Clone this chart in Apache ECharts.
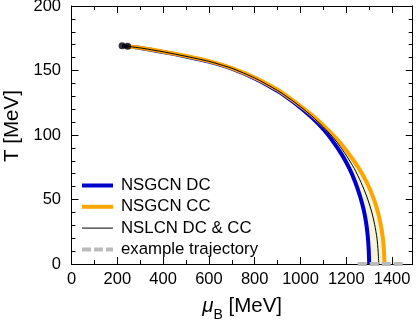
<!DOCTYPE html>
<html><head><meta charset="utf-8">
<script src="https://cdn.jsdelivr.net/npm/echarts@6/dist/echarts.min.js"></script>
<style>html,body{margin:0;padding:0;background:#fff}#c{width:416px;height:320px}</style>
</head><body><div id="c"></div>
<script>
// ---- data ----
const muBlue = [221,300,400,500,600,700,800,900,950,1000,1050,1100,1140,1180,1215,1240,1260,1276,1287,1294,1298,1300];
const tBlue  = [169.2,167.5,164.4,160.9,156.9,151.4,143.8,134,128,121.2,113.5,104.5,95.5,85,73.5,63,52.5,42,31.5,21,10.5,0];
const muOrange = [245,300,400,500,600,700,800,900,950,1000,1050,1100,1150,1200,1250,1290,1320,1340,1353,1361,1365,1367];
const tOrange  = [168.6,167.6,164.6,161.2,157.3,151.9,144.5,135,129,122.5,115.5,107.5,98.5,88,75.5,63,50.5,39,28,18,9,0];
const muBlack = [221,300,400,500,600,700,800,900,950,1000,1050,1100,1150,1195,1235,1265,1290,1310,1324,1334,1339,1342];
const tBlack  = [169.2,167.5,164.5,161,157.1,151.7,144.2,134.5,128.5,121.9,114.6,106.2,96.5,85.5,74,63,52,41,30.5,20,10,0];
const muTraj = [1250,1450];
const tTraj  = [0,0];
const muDots = [221,245];
const tDots  = [169.2,168.8];
const seriesNames = ['NSGCN DC','NSGCN CC','NSLCN DC & CC','example trajectory'];
const xMin = 0, xMax = 1490, xMajor = 200, xMinor = 100;
const yMin = 0, yMax = 200, yMajor = 50;

const FONT = '"Liberation Sans", Arial, Helvetica, sans-serif';
const zip = (a,b) => a.map((v,i) => [v, b[i]]);
const blue = zip(muBlue,tBlue), orange = zip(muOrange,tOrange), black = zip(muBlack,tBlack);
const traj = zip(muTraj,tTraj), dots = zip(muDots,tDots);
const band = blue.concat(orange.slice().reverse());

const chart = echarts.init(document.getElementById('c'), null, {renderer:'canvas'});
const lineAx = {show:true, onZero:false, lineStyle:{color:'#000', width:1}};
function xAx(pos, interval, len, labels, extra) {
  return Object.assign({
    type:'value', position:pos, min:xMin, max:xMax, interval:interval,
    axisLine: len === 7 ? lineAx : {show:false, onZero:false},
    axisTick:{show:true, inside:true, length:len, lineStyle:{color:'#000', width:1}},
    axisLabel: labels ? {show:true, color:'#000', fontSize:16.5, fontFamily:FONT, margin:7, showMaxLabel:false, formatter: v => String(v)} : {show:false},
    splitLine:{show:false}
  }, extra || {});
}
function yAx(pos, labels, extra) {
  return Object.assign({
    type:'value', position:pos, min:yMin, max:yMax, interval:yMajor,
    axisLine: lineAx,
    axisTick:{show:true, inside:true, length:7, lineStyle:{color:'#000', width:1}},
    minorTick:{show:true, splitNumber:5, length:4, lineStyle:{color:'#000', width:1}},
    axisLabel: labels ? {show:true, color:'#000', fontSize:16.5, fontFamily:FONT, margin:10.5, formatter: v => String(v)} : {show:false},
    splitLine:{show:false}, minorSplitLine:{show:false}
  }, extra || {});
}

const option = {
  animation:false,
  backgroundColor:'#fff',
  textStyle:{fontFamily:FONT},
  grid:{left:71.5, right:3.3, top:6, bottom:56, outerBoundsMode:'none', containLabel:false},
  xAxis:[
    xAx('bottom', xMajor, 7, true, {
      name:'{m|μ}{s|B}{n| [MeV]}', nameLocation:'middle', nameGap:27, nameMoveOverlap:false,
      nameTextStyle:{color:'#000', rich:{
        m:{fontSize:20.5, fontStyle:'italic', fontFamily:FONT, color:'#000'},
        s:{fontSize:14, fontFamily:FONT, color:'#000', padding:[17,0,0,0]},
        n:{fontSize:20.5, fontFamily:FONT, color:'#000'}
      }}
    }),
    xAx('bottom', xMinor, 4, false),
    xAx('top', xMajor, 7, false),
    xAx('top', xMinor, 4, false)
  ],
  yAxis:[
    yAx('left', true, {name:'T [MeV]', nameLocation:'middle', nameGap:49, nameMoveOverlap:false,
      nameTextStyle:{color:'#000', fontSize:20.5, fontFamily:FONT, padding:[0,0,0,18]}}),
    yAx('right', false)
  ],
  legend:{
    orient:'vertical', left:80, top:177, padding:0, itemWidth:31, itemHeight:14, itemGap:4.3,
    selectedMode:false,
    itemStyle:{color:'rgba(0,0,0,0)', borderColor:'rgba(0,0,0,0)', borderWidth:0, opacity:0},
    textStyle:{fontSize:16.8, color:'#000', fontFamily:FONT, padding:[0,0,0,3]},
    data:[
      {name:seriesNames[0], lineStyle:{width:4}},
      {name:seriesNames[1], lineStyle:{width:4}},
      {name:seriesNames[2], lineStyle:{width:1}},
      {name:seriesNames[3], lineStyle:{width:4}}
    ]
  },
  series:[
    {type:'custom', coordinateSystem:'cartesian2d', silent:true, z:1, data:[[800,50]],
     renderItem:(params, api) => ({
       type:'polygon',
       shape:{points: band.map(p => api.coord(p))},
       style:{fill:'#f5f5dc', stroke:null}
     })},
    {name:seriesNames[0], type:'line', data:blue, symbol:'none', smooth:0.2, z:3,
     lineStyle:{color:'#0000cc', width:4}, itemStyle:{color:'#0000cc'}},
    {name:seriesNames[1], type:'line', data:orange, symbol:'none', smooth:0.2, z:4,
     lineStyle:{color:'#ffa500', width:4}, itemStyle:{color:'#ffa500'}},
    {name:seriesNames[2], type:'line', data:black, symbol:'none', smooth:0.2, z:5,
     lineStyle:{color:'#000', width:1}, itemStyle:{color:'#000'}},
    {name:seriesNames[3], type:'line', data:traj, symbol:'none', clip:false, z:6,
     lineStyle:{color:'#bbbbbb', width:4, type:[9,3]}, itemStyle:{color:'#bbbbbb'}},
    {name:'points', type:'scatter', data:dots, symbolSize:7, z:7, itemStyle:{color:'#000'}}
  ]
};
chart.setOption(option);
</script>
</body></html>
